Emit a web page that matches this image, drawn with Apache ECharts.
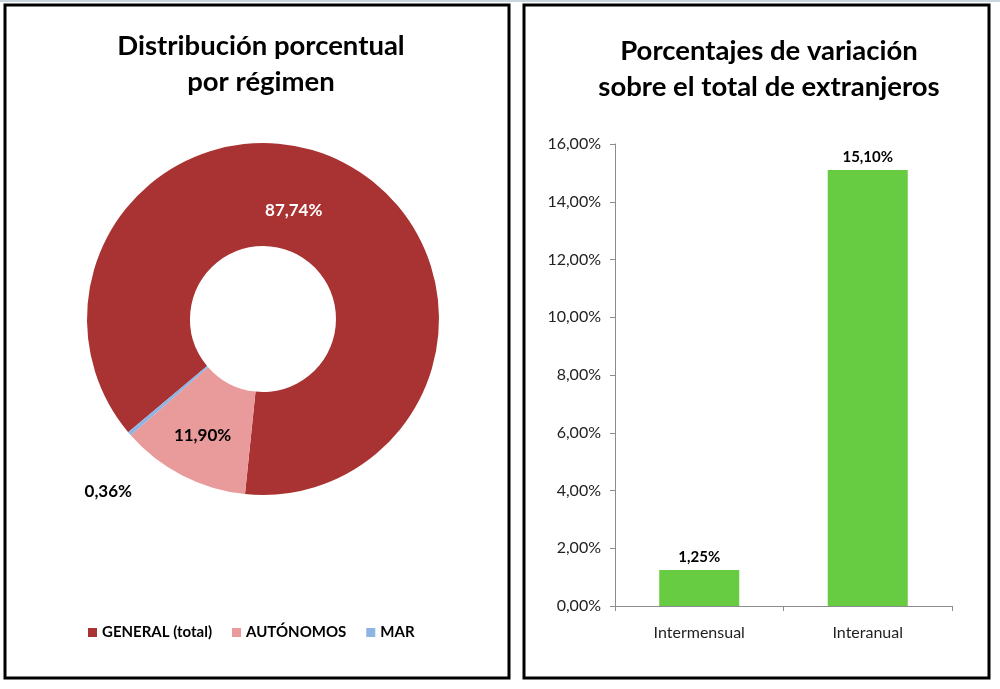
<!DOCTYPE html>
<html>
<head>
<meta charset="utf-8">
<script src="https://cdn.jsdelivr.net/npm/echarts@6/dist/echarts.min.js"></script>
<style>
html,body{margin:0;padding:0;background:#fff;}
#main{width:1000px;height:689px;}
</style>
</head>
<body>
<div id="main"></div>
<script>
// ---- data ----
const pieTitle = 'Distribución porcentual\npor régimen';
const pieNames = ['GENERAL (total)', 'AUTÓNOMOS', 'MAR'];
const pieValues = [87.74, 11.90, 0.36];
const pieColors = ['#A93232', '#E99A9A', '#8EB4E3'];

const barTitle = 'Porcentajes de variación\nsobre el total de extranjeros';
const barCategories = ['Intermensual', 'Interanual'];
const barValues = [1.25, 15.10];
const yTicks = { min: 0, max: 16, interval: 2 };

const FONT = 'Lato';
const fmt = v => Number(v).toFixed(2).replace('.', ',') + '%';

// label offsets relative to the default inside position (Excel-like placement)
const pieLabelOffsets = [[-29, 4], [-2, 3], [-58, 89]];

const chart = echarts.init(document.getElementById('main'), null, { renderer: 'canvas' });

const option = {
  animation: false,
  backgroundColor: '#ffffff',
  textStyle: { fontFamily: FONT },
  graphic: [
    { type: 'rect', shape: { x: 0, y: 0, width: 1000, height: 2 }, style: { fill: '#C8D4E0' }, silent: true },
    { type: 'rect', shape: { x: 5, y: 5, width: 504, height: 673 }, style: { fill: 'none', stroke: '#000', lineWidth: 3 }, silent: true },
    { type: 'rect', shape: { x: 524, y: 5, width: 465, height: 673 }, style: { fill: 'none', stroke: '#000', lineWidth: 3 }, silent: true },
    { type: 'text', x: 261, y: 28, style: { text: pieTitle, align: 'center', verticalAlign: 'top', font: 'bold 27.5px ' + FONT, fill: '#000', lineHeight: 36 }, silent: true },
    { type: 'text', x: 769, y: 33, style: { text: barTitle, align: 'center', verticalAlign: 'top', font: 'bold 27.5px ' + FONT, fill: '#000', lineHeight: 36 }, silent: true }
  ],
  legend: {
    data: pieNames,
    left: 83,
    top: 620,
    icon: 'rect',
    itemWidth: 9,
    itemHeight: 9,
    itemGap: 20,
    textStyle: { fontFamily: FONT, fontWeight: 'bold', fontSize: 15, color: '#000' },
    selectedMode: false
  },
  grid: { left: 615, right: 48, top: 144, bottom: 83, containLabel: false },
  xAxis: {
    type: 'category',
    data: barCategories,
    axisLine: { lineStyle: { color: '#8c8c8c', width: 1 } },
    axisTick: { show: true, length: 5, lineStyle: { color: '#8c8c8c' } },
    axisLabel: { fontFamily: FONT, fontSize: 16, color: '#222', margin: 19 }
  },
  yAxis: {
    type: 'value',
    min: yTicks.min,
    max: yTicks.max,
    interval: yTicks.interval,
    axisLine: { show: true, lineStyle: { color: '#8c8c8c', width: 1 } },
    axisTick: { show: true, length: 5, lineStyle: { color: '#8c8c8c' } },
    splitLine: { show: false },
    axisLabel: { fontFamily: FONT, fontSize: 16, color: '#222', margin: 14, formatter: fmt }
  },
  series: [
    {
      type: 'pie',
      center: [263, 319],
      radius: [73, 176],
      startAngle: 220,
      clockwise: true,
      avoidLabelOverlap: false,
      label: {
        show: true,
        position: 'inside',
        fontFamily: FONT,
        fontWeight: 'bold',
        fontSize: 17,
        formatter: p => fmt(p.value),
        color: '#000'
      },
      labelLine: { show: false },
      labelLayout: function (params) {
        const o = pieLabelOffsets[params.dataIndex];
        return { dx: o[0], dy: o[1] };
      },
      emphasis: { disabled: true },
      data: pieNames.map((n, i) => ({
        name: n,
        value: pieValues[i],
        itemStyle: { color: pieColors[i] },
        label: i === 0 ? { color: '#fff' } : {}
      }))
    },
    {
      type: 'bar',
      data: barValues,
      barWidth: '47.5%',
      itemStyle: { color: '#68CC42' },
      label: {
        show: true,
        position: 'top',
        distance: 5,
        fontFamily: FONT,
        fontWeight: 'bold',
        fontSize: 15,
        color: '#000',
        formatter: p => fmt(p.value)
      },
      emphasis: { disabled: true }
    }
  ]
};

chart.setOption(option);
</script>
</body>
</html>
